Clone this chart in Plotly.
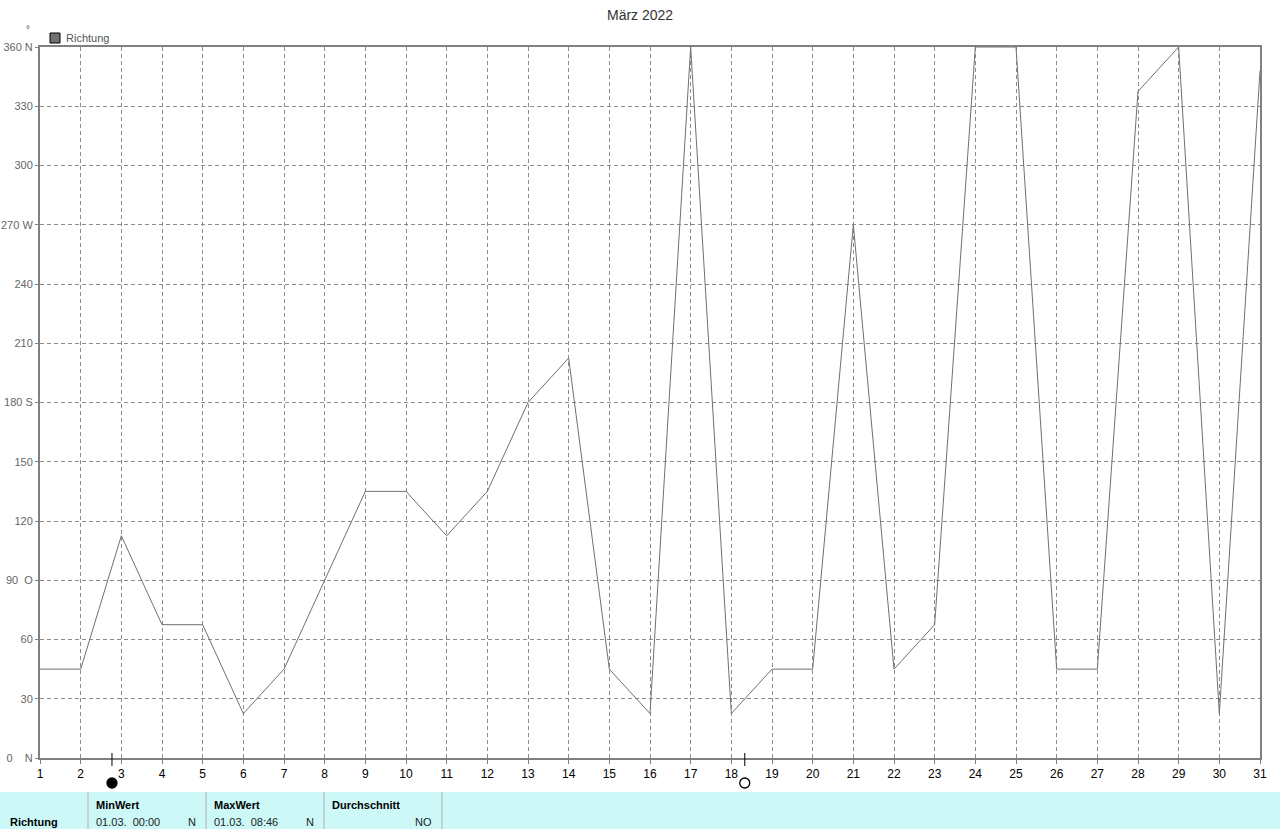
import plotly.graph_objects as go

# ---- data ----
days = list(range(1, 32))
richtung = [45, 45, 112.5, 67.5, 67.5, 22.5, 45, 90, 135, 135, 112.5, 135, 180, 202.5,
            45, 22.5, 360, 22.5, 45, 45, 270, 45, 67.5, 360, 360, 45, 45, 337.5, 360, 22.5, 348]
NB = "\u00a0"
ytick_vals = [0, 30, 60, 90, 120, 150, 180, 210, 240, 270, 300, 330, 360]
ytick_text = ["0" + NB * 4 + "N", "30", "60", "90" + NB * 2 + "O", "120", "150", "180" + NB + "S",
              "210", "240", "270" + NB + "W", "300", "330", "360" + NB + "N"]
moon_days = [2.77, 18.33]
moon_kind = ["new", "full"]
table_header = ["MinWert", "MaxWert", "Durchschnitt"]
table_row_label = "Richtung"
table_vals = [("01.03.  00:00", "N"), ("01.03.  08:46", "N"), ("", "NO")]

# ---- layout helpers (screen pixel -> paper); body margin removed via post_script ----
FW, FH = 1280, 829
L, R, T, B = 40, 1260, 47, 758
W, H = R - L, B - T
def xp(px): return (px - L) / W
def yp(py): return (B - py) / H

FONT = "Liberation Sans, Arial, sans-serif"
fig = go.Figure()
fig.add_trace(go.Scatter(x=days, y=richtung, mode="lines",
                         line=dict(color="#707070", width=1), showlegend=False,
                         hoverinfo="x+y"))

shapes = []
for d, k in zip(moon_days, moon_kind):
    shapes.append(dict(type="line", xref="x", yref="paper", x0=d, x1=d,
                       y0=yp(766), y1=yp(753), line=dict(color="black", width=1)))
    shapes.append(dict(type="circle", xref="x", yref="paper", xsizemode="pixel", ysizemode="pixel",
                       xanchor=d, yanchor=yp(783), x0=-5, x1=5, y0=-5, y1=5,
                       fillcolor="black" if k == "new" else "white",
                       line=dict(color="black", width=1.3)))

# table background
shapes.append(dict(type="rect", xref="paper", yref="paper", x0=xp(-5), x1=xp(1285),
                   y0=yp(835), y1=yp(792), fillcolor="#ccf8f8", line=dict(width=0), layer="below"))
for sx in [88, 206, 324, 442]:
    shapes.append(dict(type="line", xref="paper", yref="paper", x0=xp(sx), x1=xp(sx),
                       y0=yp(835), y1=yp(792), line=dict(color="#b8c8c8", width=1.5)))
# legend square
shapes.append(dict(type="rect", xref="paper", yref="paper", x0=xp(50), x1=xp(60),
                   y0=yp(43), y1=yp(33), fillcolor="#707070", line=dict(color="black", width=1)))

ann = []
ann.append(dict(text="März 2022", x=xp(640), xref="paper", y=yp(15), yref="paper", showarrow=False,
                font=dict(size=14, color="#333333", family=FONT), xanchor="center", yanchor="middle"))
ann.append(dict(text="°", x=xp(28), xref="paper", y=yp(29), yref="paper", showarrow=False,
                font=dict(size=10, color="#555555", family=FONT), xanchor="center", yanchor="middle"))
ann.append(dict(text="Richtung", x=xp(64), xref="paper", y=yp(38), yref="paper", showarrow=False,
                font=dict(size=11, color="#555555", family=FONT), xanchor="left", yanchor="middle"))
ann.append(dict(text="<b>" + table_row_label + "</b>", x=xp(8), xref="paper", y=yp(822), yref="paper",
                showarrow=False, font=dict(size=11, color="black", family=FONT), xanchor="left", yanchor="middle"))
col_x = [94, 212, 330]
col_r = [198, 316, 434]
for cx, cr, h, (v, u) in zip(col_x, col_r, table_header, table_vals):
    ann.append(dict(text="<b>" + h + "</b>", x=xp(cx), xref="paper", y=yp(805), yref="paper",
                    showarrow=False, font=dict(size=11, color="black", family=FONT),
                    xanchor="left", yanchor="middle"))
    if v:
        ann.append(dict(text=v.replace(" ", NB), x=xp(cx), xref="paper", y=yp(822), yref="paper",
                        showarrow=False, font=dict(size=11, color="#222222", family=FONT),
                        xanchor="left", yanchor="middle"))
    ann.append(dict(text=u, x=xp(cr), xref="paper", y=yp(822), yref="paper", showarrow=False,
                    font=dict(size=11, color="#222222", family=FONT), xanchor="right", yanchor="middle"))

fig.update_layout(
    width=FW, height=FH, autosize=False,
    margin=dict(l=L, r=FW - R, t=T, b=FH - B, pad=0),
    paper_bgcolor="white", plot_bgcolor="white",
    shapes=shapes, annotations=ann, showlegend=False,
    font=dict(family=FONT, size=11, color="#555555"),
)
common = dict(showgrid=True, gridcolor="#8c8c8c", griddash="4px,3px", gridwidth=1,
              showline=True, mirror=True, linecolor="#808080", linewidth=2,
              tickcolor="#808080", zeroline=False, automargin=False)
fig.update_xaxes(range=[1, 31], tickmode="array", tickvals=days, ticktext=[str(d) for d in days],
                 ticks="outside", ticklen=4,
                 tickfont=dict(size=12, color="black", family=FONT), **common)
fig.update_yaxes(range=[0, 360], tickmode="array", tickvals=ytick_vals, ticktext=ytick_text,
                 ticks="outside", ticklen=3,
                 tickfont=dict(size=11, color="#666666", family=FONT), **common)

fig.write_html("out.html", config={"displayModeBar": False},
               post_script="document.body.style.margin='0';document.body.style.overflow='hidden';")
